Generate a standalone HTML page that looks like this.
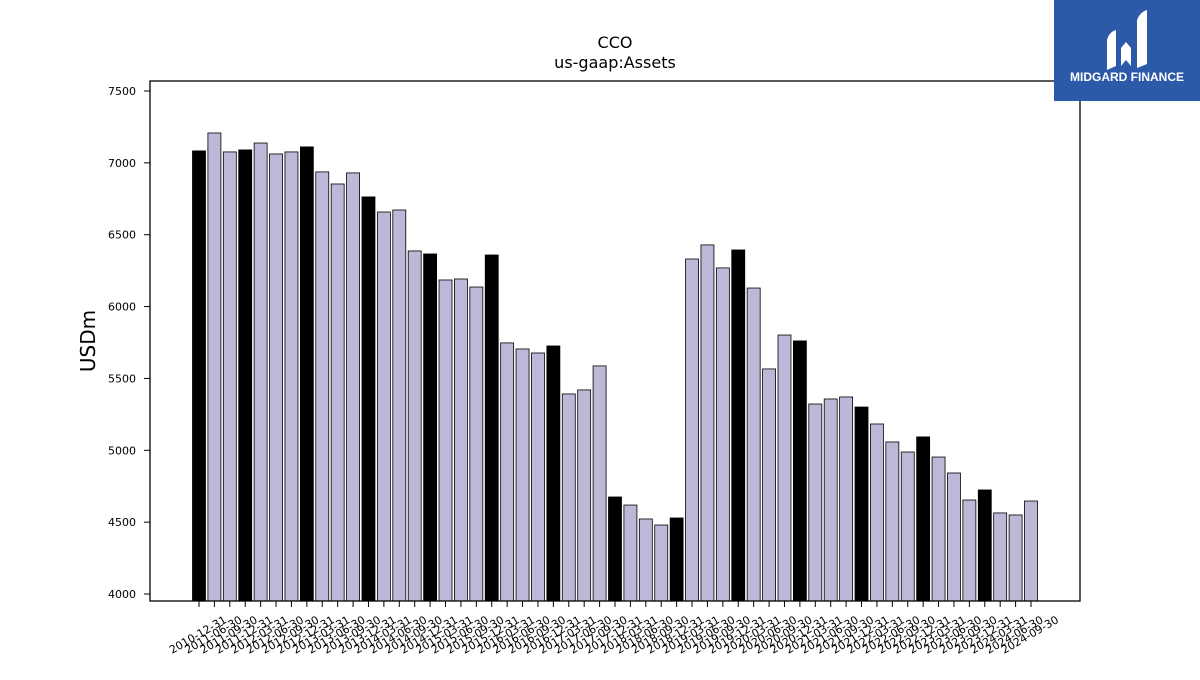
<!DOCTYPE html>
<html><head><meta charset="utf-8"><style>
body{margin:0;background:#fff;width:1200px;height:675px;overflow:hidden;font-family:"Liberation Sans","DejaVu Sans",sans-serif}
</style></head><body>
<svg id="chart" width="1200" height="675" xmlns="http://www.w3.org/2000/svg">
<text x="615" y="48" text-anchor="middle" font-size="16" font-family="DejaVu Sans, sans-serif">CCO</text>
<text x="615" y="68" text-anchor="middle" font-size="16" font-family="DejaVu Sans, sans-serif">us-gaap:Assets</text>
<text transform="translate(95,341) rotate(-90)" text-anchor="middle" font-size="20" font-family="DejaVu Sans, sans-serif">USDm</text>
<g id="bars"></g><g id="yt"></g><g id="xt"></g>
<rect x="150" y="81" width="930" height="520" fill="none" stroke="#000" stroke-width="1.3"/>
<g>
<rect x="1054" y="0" width="146" height="101" fill="#2c5aa8"/>
<path d="M1107 70 L1107 40 Q1109 32 1116 30 L1116 66 Z M1121 66 L1121 48 L1126 42 L1131 48 L1131 66 L1126 60 Z M1137 68 L1137 20 Q1140 12 1147 10 L1147 64 Z" fill="#fff"/>
<text x="1127" y="81" text-anchor="middle" font-size="12" font-weight="bold" fill="#fff">MIDGARD FINANCE</text>
</g>
</svg>
<script>
const labels=["2010-12-31","2011-06-30","2011-09-30","2011-12-31","2012-03-31","2012-06-30","2012-09-30","2012-12-31","2013-03-31","2013-06-30","2013-09-30","2013-12-31","2014-03-31","2014-06-30","2014-09-30","2014-12-31","2015-03-31","2015-06-30","2015-09-30","2015-12-31","2016-03-31","2016-06-30","2016-09-30","2016-12-31","2017-03-31","2017-06-30","2017-09-30","2017-12-31","2018-03-31","2018-06-30","2018-09-30","2018-12-31","2019-03-31","2019-06-30","2019-09-30","2019-12-31","2020-03-31","2020-06-30","2020-09-30","2020-12-31","2021-03-31","2021-06-30","2021-09-30","2021-12-31","2022-03-31","2022-06-30","2022-09-30","2022-12-31","2023-03-31","2023-06-30","2023-09-30","2023-12-31","2024-03-31","2024-06-30","2024-09-30"];
const values=[7083,7208,7076,7090,7138,7062,7076,7111,6937,6853,6930,6763,6658,6672,6387,6366,6185,6192,6136,6359,5747,5705,5677,5726,5392,5420,5587,4675,4619,4522,4480,4529,6331,6429,6269,6394,6129,5566,5802,5761,5322,5357,5371,5301,5183,5058,4988,5093,4953,4842,4654,4724,4564,4550,4647];
const yTicks=[4000,4500,5000,5500,6000,6500,7000,7500];
const NS="http://www.w3.org/2000/svg";
const y=v=>594-(v-4000)*503/3500;
const x=i=>199+i*(1031-199)/(labels.length-1);
const bars=document.getElementById('bars'),yt=document.getElementById('yt'),xt=document.getElementById('xt');
function mk(t,a){const e=document.createElementNS(NS,t);for(const k in a)e.setAttribute(k,a[k]);return e;}
values.forEach((v,i)=>{
 const r=mk('rect',{x:x(i)-6.5,y:y(v),width:13,height:601-y(v),fill:labels[i].endsWith('12-31')?'#000':'#bcb8d8',stroke:'#000','stroke-width':0.8});
 
 
 bars.appendChild(r);
 const tk=mk('line',{x1:x(i),x2:x(i),y1:601,y2:607,stroke:'#000'});
 
 
 xt.appendChild(tk);
 const t=mk('text',{transform:`translate(${x(i)-1},635) rotate(-30)`,'text-anchor':'middle','dominant-baseline':'central','font-size':11,'font-family':'DejaVu Sans, sans-serif'});
 
 
 t.textContent=labels[i];xt.appendChild(t);
});
yTicks.forEach(v=>{
 const l=mk('line',{x1:144,x2:150,y1:y(v),y2:y(v),stroke:'#000'});
 
 
 yt.appendChild(l);
 const t=mk('text',{x:136,y:y(v)+4,'text-anchor':'end','font-size':11,'font-family':'DejaVu Sans, sans-serif'});
 
 
 t.textContent=v;yt.appendChild(t);
});
</script>
</body></html>
